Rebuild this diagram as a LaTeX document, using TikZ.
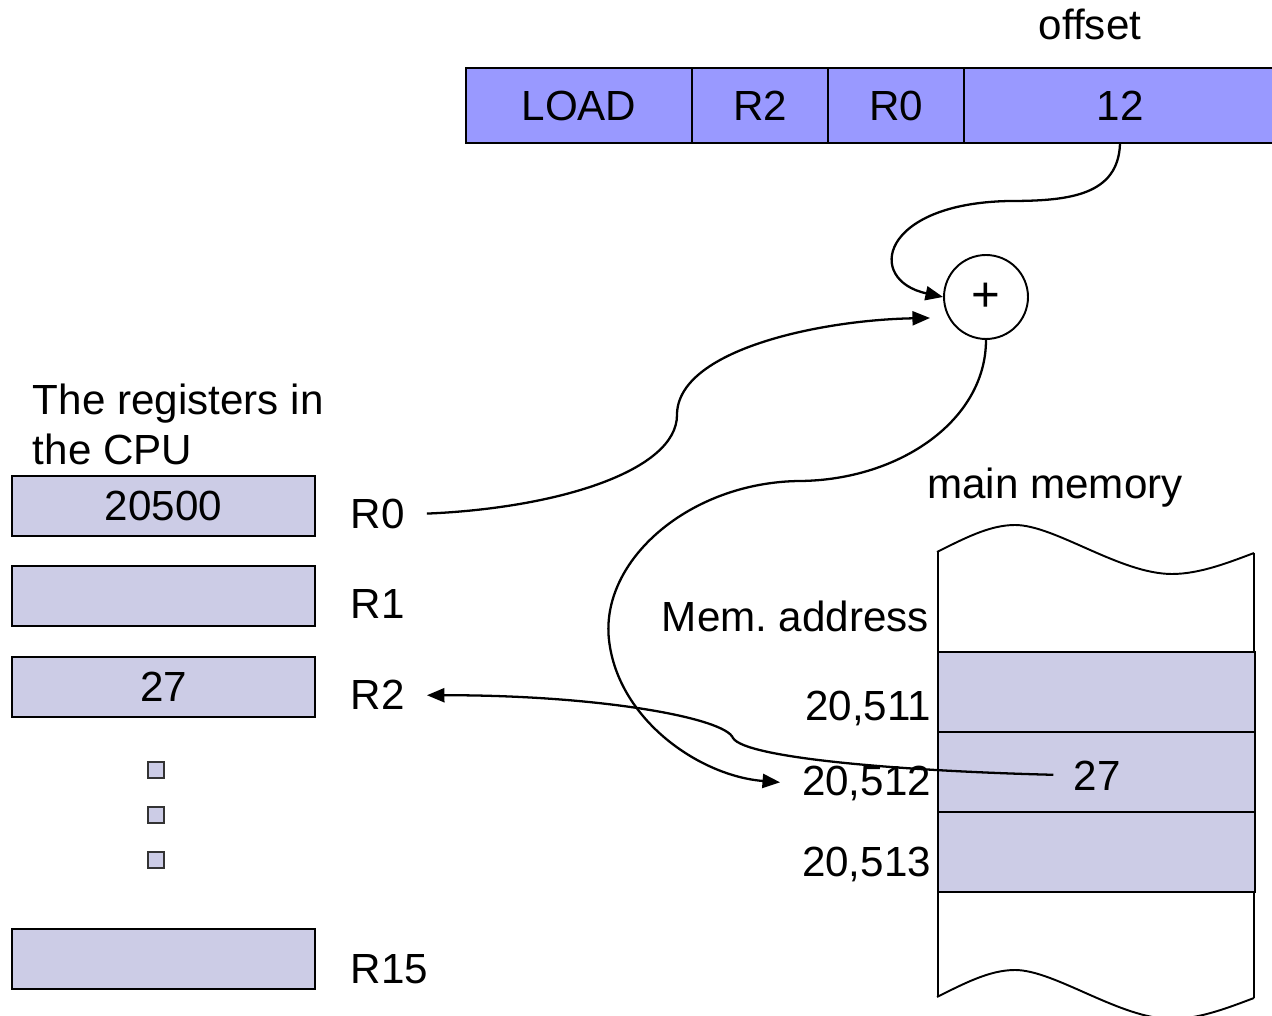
\documentclass[tikz,border=0pt]{standalone}
\usepackage{fontspec}
\setmainfont{Liberation Sans}
\usetikzlibrary{arrows.meta, positioning, calc}
\definecolor{cinstr}{HTML}{9999FF}
\definecolor{ccell}{HTML}{CCCCE6}
\definecolor{cedge}{HTML}{333333}

\begin{document}
\begin{tikzpicture}[x=0.02cm, y=-0.02cm, line width=1.1pt,
  every node/.style={font=\fontsize{24}{28.4}\selectfont},
  field/.style={draw, fill=cinstr, minimum height=1.5cm, inner sep=0pt},
  reg/.style={draw, fill=ccell, minimum width=6.06cm, minimum height=1.2cm, inner sep=0pt},
  cell/.style={draw, fill=ccell, minimum width=6.34cm, minimum height=1.6cm, inner sep=0pt},
  lbl/.style={inner sep=0pt},
  tip/.style={line width=1.3pt, -{Triangle[length=10pt, width=8pt]}}]
  \useasboundingbox (0,0) rectangle (1272,1016);
  \clip (0,0) rectangle (1272,1016);
  % instruction word
  \node[field, minimum width=4.52cm] (fload) at (579,105.5) {LOAD};
  \node[field, minimum width=2.72cm] (fr2) at (760,105.5) {R2};
  \node[field, minimum width=2.72cm] (fr0) at (896,105.5) {R0};
  \node[field, minimum width=6.24cm] (f12) at (1120,105.5) {12};
  \node[lbl, anchor=base] (offs) at (1090,40) {offset};
  % adder
  \node[draw, circle, minimum size=1.68cm, inner sep=0pt, fill=white,
    font=\fontsize{28}{30}\selectfont] (plus) at (986,297) {+};
  \coordinate (r0in) at (930,318);
  % registers
  \node[lbl, align=left, anchor=south west] (regtxt) at (32,466) {The registers in\\the CPU};
  \node[reg] (reg0) at (163.5,506) {20500};
  \node[reg] (reg1) at (163.5,596) {};
  \node[reg] (reg2) at (163.5,687) {27};
  \node[reg] (reg15) at (163.5,959) {};
  \node[lbl, anchor=base west] (r0lab) at (350,529) {R0};
  \node[lbl, anchor=base west] (r1lab) at (350,619) {R1};
  \node[lbl, anchor=base west] (r2lab) at (350,710) {R2};
  \node[lbl, anchor=base west] (r15lab) at (350,983) {R15};
  \foreach \y in {762,807,852}
    \draw[cedge, fill=ccell, line width=1pt] (148,\y) rectangle ++(16,16);
  % main memory
  \node[lbl, anchor=base] (memtxt) at (1055,499) {main memory};
  \foreach \dy in {0,445}
    \draw[shift={(0,\dy)}] (937,552) .. controls (965,538) and (990,525) .. (1015,525)
      .. controls (1055,525) and (1120,574) .. (1172,574) .. controls (1200,574) and (1230,562) .. (1254,553);
  \draw (938,552) -- (938,997);
  \draw (1254,553) -- (1254,998);
  \node[cell] (mem1) at (1096.5,692) {};
  \node[cell] (mem2) at (1096.5,772) {};
  \node[cell] (mem3) at (1096.5,852) {};
  \node[lbl, anchor=base] (m27) at (1097,790) {27};
  \node[lbl, anchor=base east] (addr) at (930,632) {Mem.\ address};
  \node[lbl, anchor=base east] (a511) at (932,721) {20,511};
  \node[lbl, anchor=base east] (a512) at (932,796) {20,512};
  \node[lbl, anchor=base east] (a513) at (932,876) {20,513};
  % connectors
  \draw[tip] (f12.south) .. controls (1118,195) and (1070,201) .. (1010,201)
    .. controls (880,203) and (865,280) .. (plus.west);
  \draw[tip, shorten <=12pt] (r0lab.east) .. controls (560,508) and (677,470) .. (677,415)
    .. controls (677,350) and (820,320) .. (r0in);
  \draw[tip, shorten >=12pt] (plus.south) .. controls (986,420) and (900,480) .. (800,481)
    .. controls (690,482) and (600,560) .. (609,640) .. controls (618,720) and (700,776) .. (a512.west);
  \draw[tip, shorten <=11pt, shorten >=12pt] (m27.west) .. controls (900,771) and (745,758) .. (733,738)
    .. controls (725,718) and (600,695) .. (r2lab.east);
\end{tikzpicture}
\end{document}
